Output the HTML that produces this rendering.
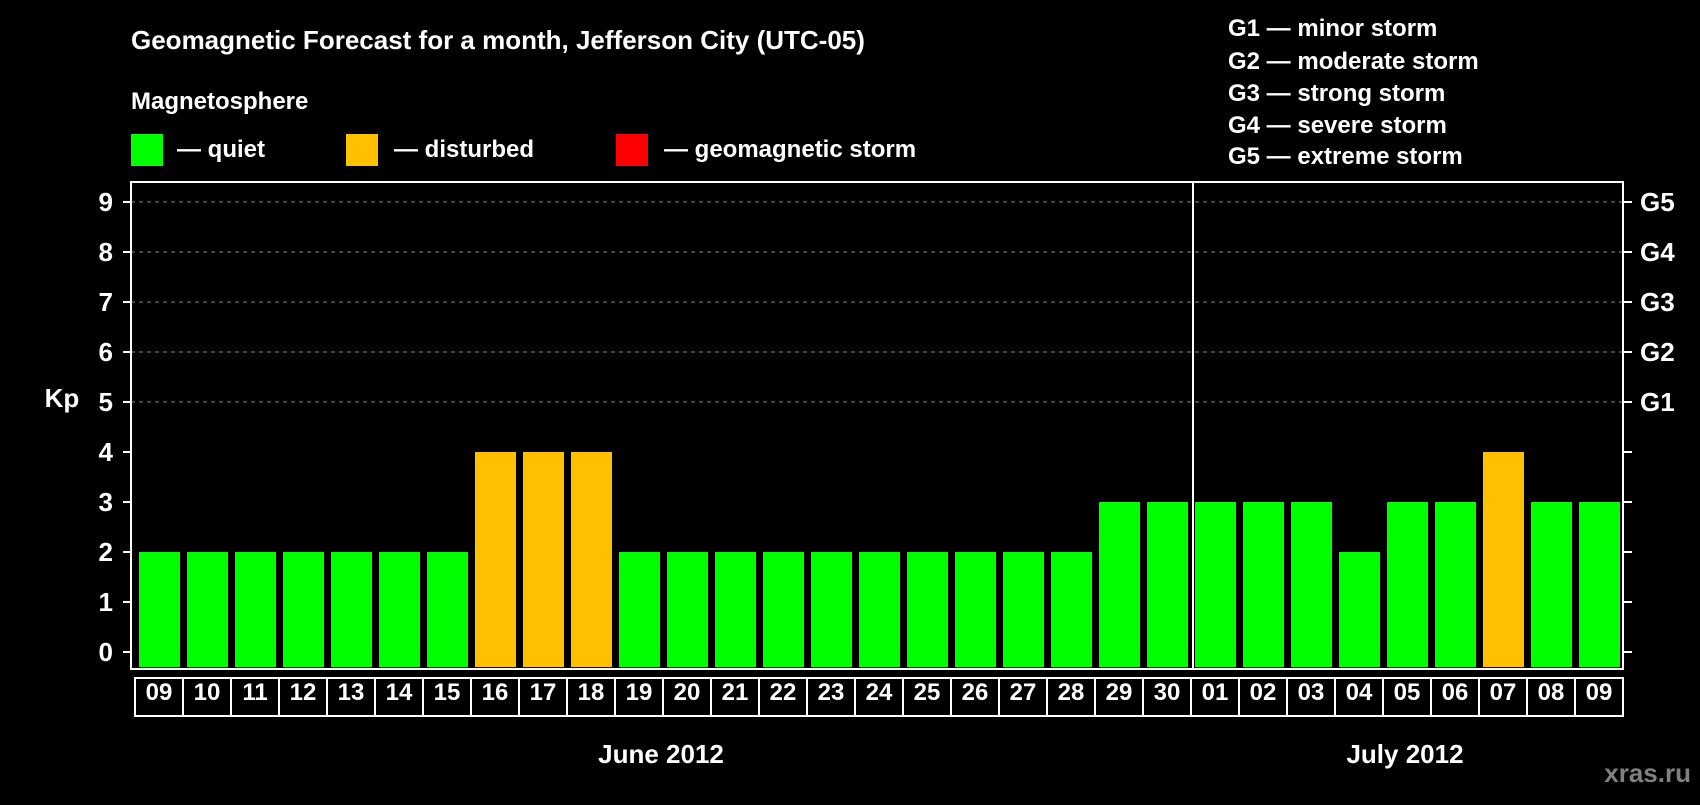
<!DOCTYPE html>
<html><head><meta charset="utf-8"><style>
body{margin:0;background:#000;width:1700px;height:800px;overflow:hidden;font-family:"Liberation Sans",sans-serif;}
svg text{font-family:"Liberation Sans",sans-serif;font-weight:bold;fill:#fff;}
</style></head><body>
<svg id="c" width="1700" height="800">
<text x="131" y="49" font-size="26">Geomagnetic Forecast for a month, Jefferson City (UTC-05)</text>
<text x="131" y="109" font-size="24">Magnetosphere</text>
<g><rect x="131" y="134" width="32" height="32" fill="#00ff00"/><text x="177" y="157" font-size="24">— quiet</text></g>
<g><rect x="346" y="134" width="32" height="32" fill="#ffc000"/><text x="394" y="157" font-size="24">— disturbed</text></g>
<g><rect x="616" y="134" width="32" height="32" fill="#ff0000"/><text x="664" y="157" font-size="24">— geomagnetic storm</text></g>
<g font-size="24">
<text x="1228" y="36" font-size="24">G1 — minor storm</text>
<text x="1228" y="69" font-size="24">G2 — moderate storm</text>
<text x="1228" y="101" font-size="24">G3 — strong storm</text>
<text x="1228" y="133" font-size="24">G4 — severe storm</text>
<text x="1228" y="164" font-size="24">G5 — extreme storm</text>
</g>
<text x="62" y="407" font-size="26" text-anchor="middle">Kp</text>
<g id="plot"></g>
<text x="661" y="763" font-size="26" text-anchor="middle">June 2012</text>
<text x="1405" y="763" font-size="26" text-anchor="middle">July 2012</text>
<text x="1691" y="782" font-size="26" text-anchor="end" style="fill:#808080">xras.ru</text>
</svg>
<script>
const days=["09","10","11","12","13","14","15","16","17","18","19","20","21","22","23","24","25","26","27","28","29","30","01","02","03","04","05","06","07","08","09"];
const kp=[2,2,2,2,2,2,2,4,4,4,2,2,2,2,2,2,2,2,2,2,3,3,3,3,3,2,3,3,4,3,3];
const yTicks=[0,1,2,3,4,5,6,7,8,9];
const gLabels=["G1","G2","G3","G4","G5"];
const gLevels=[5,6,7,8,9];
const NS="http://www.w3.org/2000/svg";
const g=document.getElementById('plot');
const L=131,R=1623,T=182,B=669,X0=135,P=48;
const y=v=>652-v*50;
const x=i=>X0+i*P;
function mk(t,a,p){const e=document.createElementNS(NS,t);for(const k in a)e.setAttribute(k,a[k]);(p||g).appendChild(e);return e;}
const col=v=>v>=5?"#ff0000":v>=4?"#ffc000":"#00ff00";
yTicks.forEach(v=>{
 if(v>=5){const l=mk('line',{x1:L,x2:R,y1:y(v),y2:y(v),stroke:'#888','stroke-dasharray':'4,4','stroke-width':1});
 
 }
 mk('line',{x1:L-8,x2:L,y1:y(v),y2:y(v),stroke:'#fff','stroke-width':2});
 mk('line',{x1:R,x2:R+9,y1:y(v),y2:y(v),stroke:'#fff','stroke-width':2});
 const t=mk('text',{x:113,y:y(v)+9,'font-size':26,'text-anchor':'end'});t.textContent=v;
 
 
});
gLabels.forEach((s,i)=>{const t=mk('text',{x:1640,y:y(gLevels[i])+9,'font-size':26});t.textContent=s;
 
 });
kp.forEach((v,i)=>{
 const r=mk('rect',{x:x(i)+4,y:y(v),width:41,height:B-y(v)-2,fill:col(v)});
 
 
 mk('rect',{x:x(i),y:678,width:P,height:38,fill:'none',stroke:'#fff','stroke-width':2});
 const t=mk('text',{x:x(i)+P/2,y:700,'font-size':24,'text-anchor':'middle'});t.textContent=days[i];
 
 
});
const sep=days.indexOf("01");
mk('line',{x1:x(sep)+2,x2:x(sep)+2,y1:T,y2:B,stroke:'#fff','stroke-width':2});
const f=mk('rect',{x:L,y:T,width:R-L,height:B-T,fill:'none',stroke:'#fff','stroke-width':2});


</script>
</body></html>
